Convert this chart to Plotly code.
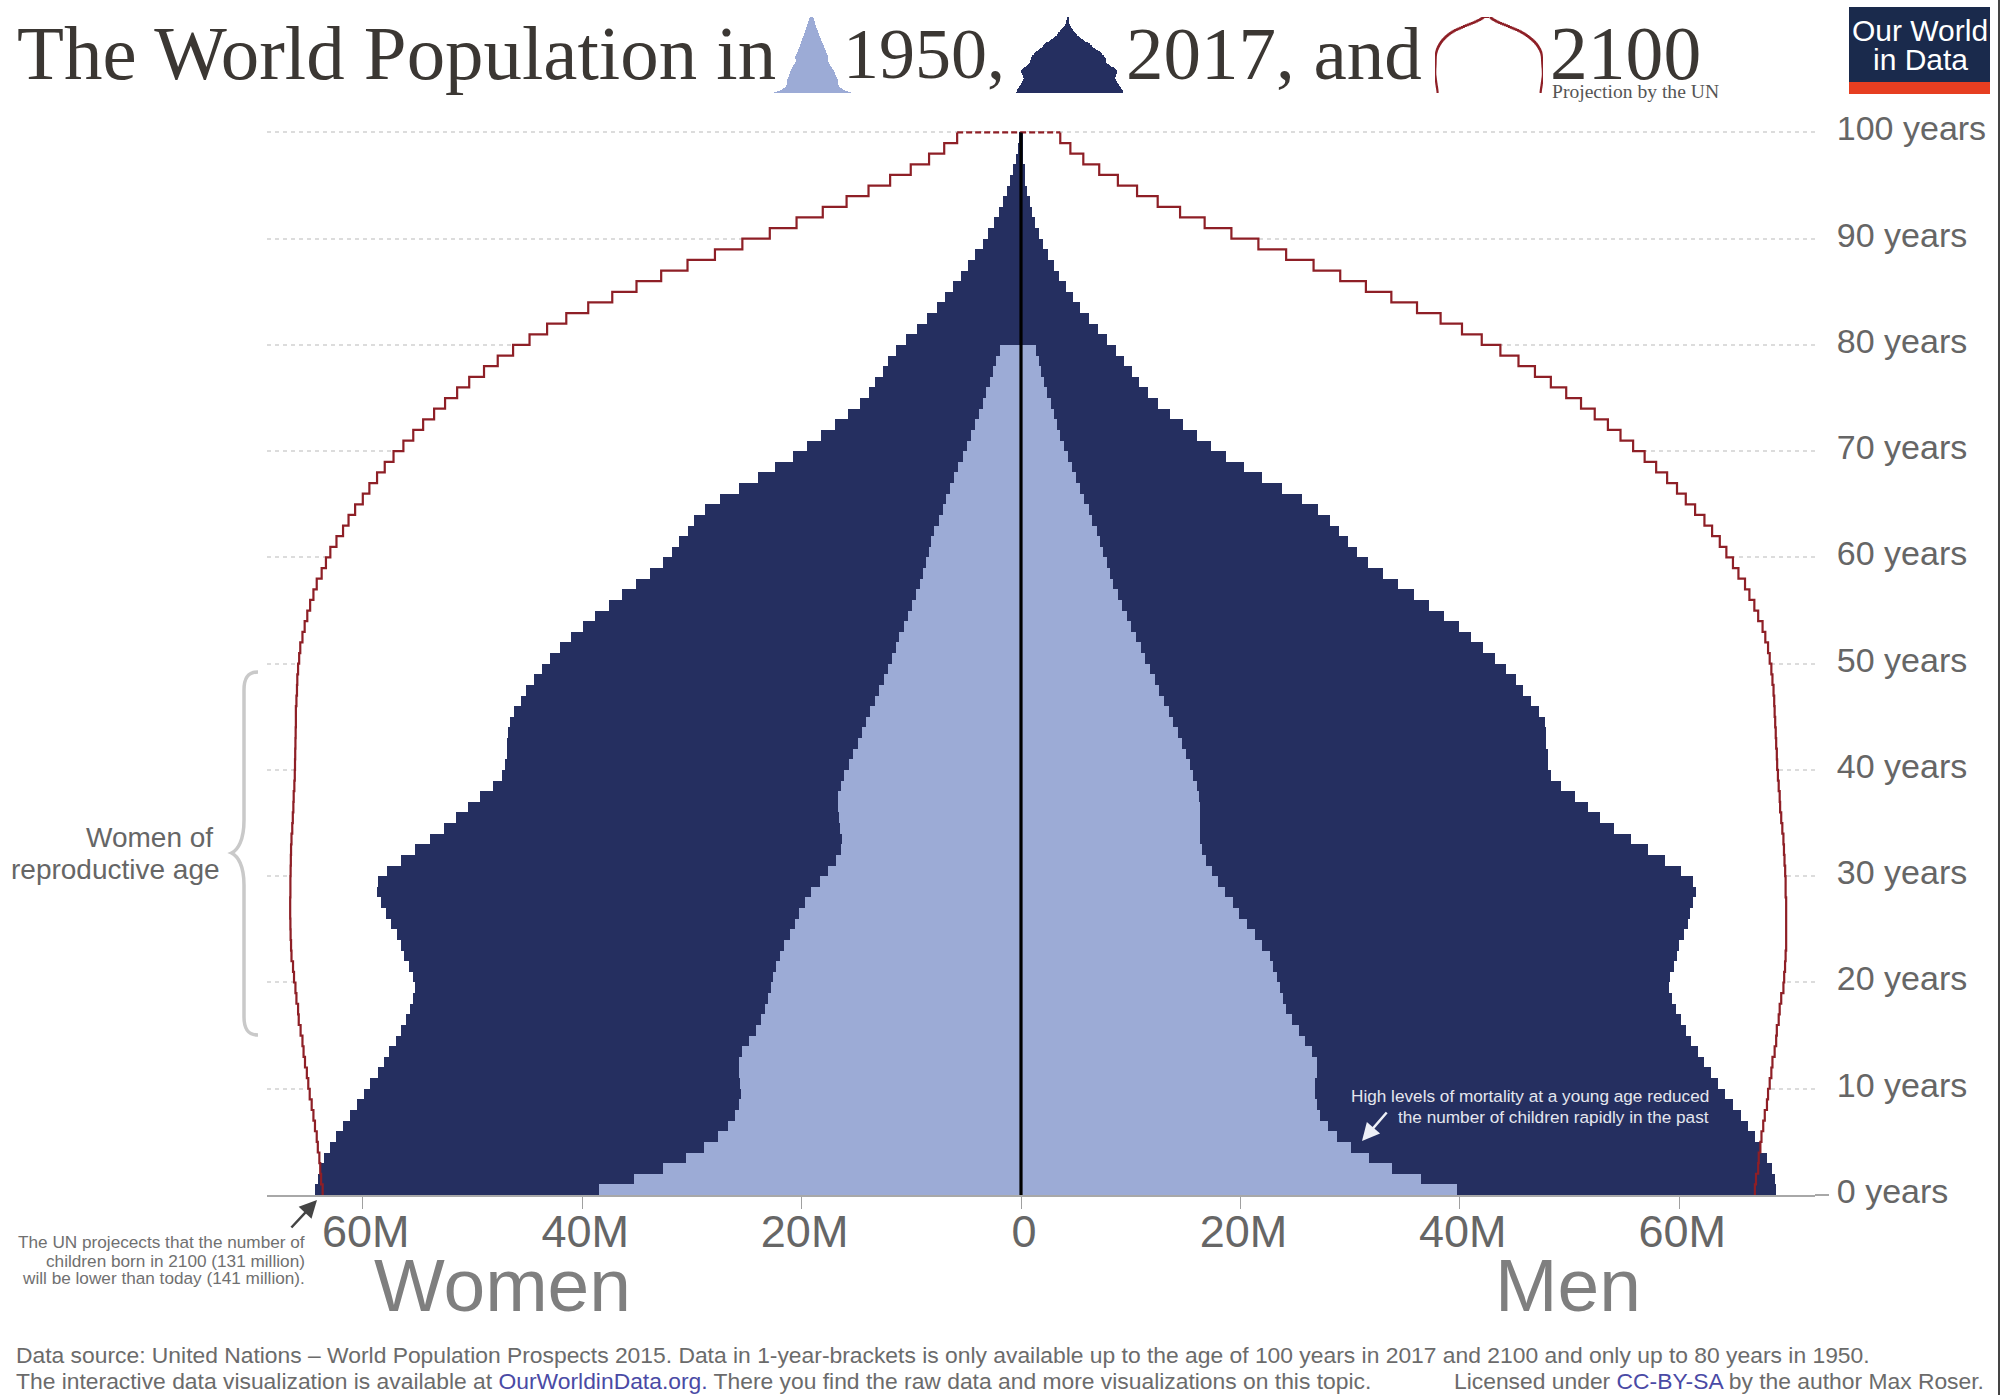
import plotly.graph_objects as go

# values in millions, index = age in years
ages = list(range(100))
ages_1950 = list(range(80))

women_2017 = [
    64.4, 64.1, 63.8, 63.5, 63.0, 62.4, 61.8, 61.2, 60.5, 59.9,
    59.3, 58.6, 58.1, 57.6, 57.0, 56.5, 56.1, 55.7, 55.4, 55.2,
    55.4, 55.8, 56.2, 56.5, 56.9, 57.4, 57.9, 58.3, 58.7, 58.6,
    57.8, 56.5, 55.2, 53.9, 52.6, 51.5, 50.4, 49.3, 48.1, 47.3,
    47.0, 46.9, 46.9, 46.8, 46.6, 46.2, 45.6, 45.1, 44.4, 43.7,
    42.9, 42.0, 41.0, 39.9, 38.8, 37.6, 36.4, 35.1, 33.8, 32.6,
    31.8, 31.2, 30.4, 29.8, 28.8, 27.4, 25.7, 24.0, 22.4, 20.8,
    19.5, 18.2, 17.0, 15.8, 14.7, 13.9, 13.3, 12.6, 12.1, 11.4,
    10.5, 9.5, 8.6, 7.7, 6.9, 6.2, 5.5, 4.8, 4.2, 3.5,
    3.0, 2.5, 2.0, 1.6, 1.3, 0.96, 0.71, 0.43, 0.25, 0.12,
]
men_2017 = [
    68.8, 68.7, 68.5, 68.0, 67.4, 66.9, 66.3, 65.6, 64.9, 64.2,
    63.5, 62.9, 62.3, 61.7, 61.1, 60.6, 60.2, 59.7, 59.3, 59.05,
    59.2, 59.5, 59.8, 60.0, 60.4, 60.8, 61.0, 61.3, 61.5, 61.3,
    60.2, 58.7, 57.2, 55.6, 54.1, 52.8, 51.7, 50.5, 49.25, 48.3,
    48.0, 48.0, 47.9, 47.9, 47.75, 47.2, 46.5, 45.8, 45.1, 44.2,
    43.2, 42.1, 41.0, 39.9, 38.55, 37.2, 35.8, 34.4, 33.0, 31.65,
    30.66, 29.8, 29.0, 28.2, 27.1, 25.6, 23.8, 22.0, 20.3, 18.65,
    17.3, 16.0, 14.8, 13.6, 12.5, 11.6, 10.8, 10.1, 9.4, 8.7,
    7.84, 7.0, 6.17, 5.37, 4.7, 4.07, 3.49, 2.97, 2.47, 2.04,
    1.64, 1.3, 1.03, 0.78, 0.56, 0.4, 0.35, 0.2, 0.15, 0.1,
]
women_1950 = [
    38.5, 35.3, 32.6, 30.5, 28.9, 27.6, 26.7, 26.1, 25.7, 25.5,
    25.6, 25.7, 25.7, 25.4, 24.75, 24.2, 23.7, 23.3, 23.05, 22.8,
    22.6, 22.3, 22.0, 21.6, 21.1, 20.6, 20.2, 19.7, 19.1, 18.3,
    17.6, 16.9, 16.4, 16.3, 16.5, 16.6, 16.7, 16.7, 16.4, 16.1,
    15.7, 15.3, 14.9, 14.5, 14.1, 13.8, 13.3, 12.9, 12.5, 12.1,
    11.8, 11.4, 11.1, 10.7, 10.3, 9.9, 9.6, 9.2, 8.9, 8.7,
    8.4, 8.2, 7.9, 7.5, 7.15, 6.8, 6.45, 6.07, 5.7, 5.3,
    4.93, 4.56, 4.19, 3.85, 3.51, 3.17, 2.87, 2.56, 2.25, 1.94,
]
men_1950 = [
    39.7, 36.5, 33.8, 31.7, 30.1, 28.8, 28.0, 27.3, 27.0, 26.8,
    26.8, 27.0, 27.0, 26.5, 25.9, 25.3, 24.7, 24.2, 23.85, 23.6,
    23.3, 23.0, 22.7, 22.0, 21.3, 20.6, 19.9, 19.3, 18.6, 18.0,
    17.4, 16.9, 16.5, 16.3, 16.3, 16.3, 16.3, 16.2, 16.0, 15.7,
    15.4, 15.06, 14.7, 14.3, 13.9, 13.5, 13.06, 12.6, 12.2, 11.8,
    11.3, 10.9, 10.5, 10.07, 9.66, 9.25, 8.84, 8.4, 8.1, 7.8,
    7.5, 7.2, 6.9, 6.5, 6.2, 5.76, 5.4, 5.0, 4.64, 4.3,
    3.95, 3.6, 3.27, 2.97, 2.7, 2.4, 2.13, 1.86, 1.6, 1.37,
]
women_2100 = [
    63.66, 63.8, 63.88, 63.96, 64.1, 64.2, 64.36, 64.5, 64.66, 64.84,
    64.97, 65.1, 65.27, 65.4, 65.5, 65.67, 65.84, 65.9, 66.05, 66.14,
    66.27, 66.36, 66.5, 66.54, 66.58, 66.6, 66.62, 66.62, 66.6, 66.6,
    66.58, 66.56, 66.54, 66.5, 66.43, 66.38, 66.33, 66.3, 66.24, 66.2,
    66.18, 66.16, 66.14, 66.12, 66.1, 66.1, 66.05, 66.0, 65.97, 65.9,
    65.8, 65.7, 65.5, 65.3, 65.06, 64.8, 64.5, 64.2, 63.75, 63.36,
    62.96, 62.4, 61.8, 61.3, 60.7, 60.0, 59.4, 58.7, 58.0, 57.2,
    56.3, 55.4, 54.5, 53.5, 52.5, 51.4, 50.3, 48.95, 47.7, 46.3,
    44.8, 43.2, 41.45, 39.45, 37.26, 35.05, 32.8, 30.4, 27.9, 25.4,
    22.9, 20.46, 18.07, 15.9, 13.9, 11.93, 10.05, 8.38, 7.0, 5.82,
]
men_2100 = [
    66.9, 67.0, 67.2, 67.25, 67.4, 67.5, 67.66, 67.8, 68.0, 68.1,
    68.25, 68.4, 68.5, 68.7, 68.84, 68.9, 69.07, 69.16, 69.3, 69.5,
    69.57, 69.65, 69.7, 69.75, 69.75, 69.75, 69.75, 69.75, 69.7, 69.7,
    69.66, 69.6, 69.55, 69.5, 69.4, 69.3, 69.2, 69.16, 69.07, 69.0,
    68.93, 68.9, 68.84, 68.8, 68.75, 68.7, 68.66, 68.6, 68.5, 68.4,
    68.25, 68.1, 67.85, 67.6, 67.2, 66.85, 66.4, 66.0, 65.4, 64.9,
    64.3, 63.7, 63.0, 62.3, 61.45, 60.6, 59.8, 58.9, 57.9, 56.85,
    55.8, 54.65, 53.5, 52.3, 51.05, 49.7, 48.3, 46.85, 45.35, 43.7,
    42.0, 40.2, 38.25, 36.1, 33.76, 31.44, 29.1, 26.67, 24.17, 21.64,
    19.18, 16.74, 14.5, 12.46, 10.58, 8.83, 7.13, 5.68, 4.5, 3.58,
]

x_tickvals = [-60, -40, -20, 0, 20, 40, 60]
x_ticktext = ["60M", "40M", "20M", "0", "20M", "40M", "60M"]
y_tickvals = [0, 10, 20, 30, 40, 50, 60, 70, 80, 90, 100]
y_ticktext = ["0 years", "10 years", "20 years", "30 years", "40 years", "50 years",
              "60 years", "70 years", "80 years", "90 years", "100 years"]

W, H = 2000, 1395
NAVY = "#252f60"
BLUE = "#9cabd6"
RED = "#8e1f26"
SANS = "Liberation Sans"
SERIF = "Liberation Serif"


def fx(px):
    return px / W


def fy(py):
    return 1 - py / H


def label(text, x, base, size, color, family=SANS, anchor="left"):
    # base is the text baseline in page pixels
    return dict(text=text, x=fx(x), y=fy(base + 0.215 * size), xref="paper", yref="paper",
                xanchor=anchor, yanchor="bottom", showarrow=False, borderpad=0,
                align=anchor, font=dict(family=family, size=size, color=color))


def arrow(x0, y0, x1, y1, color):
    return dict(text="", x=fx(x1), y=fy(y1), ax=x0 - x1, ay=y0 - y1, xref="paper", yref="paper",
                showarrow=True, arrowhead=2, arrowsize=1.4, arrowwidth=2.5, arrowcolor=color)


def pyramid_traces(xa, ya):
    # same data drawn on the main axes and again on the little title icons
    out = []
    out.append(go.Bar(y=ages, x=[w + m for w, m in zip(women_2100, men_2100)], base=[-w for w in women_2100],
                      orientation="h", width=1, offset=0, marker=dict(color="white", line_width=0),
                      xaxis=xa, yaxis=ya))
    out.append(go.Bar(y=ages, x=[-w for w in women_2017], orientation="h", width=1, offset=0,
                      marker=dict(color=NAVY, line_width=0), xaxis=xa, yaxis=ya))
    out.append(go.Bar(y=ages, x=men_2017, orientation="h", width=1, offset=0,
                      marker=dict(color=NAVY, line_width=0), xaxis=xa, yaxis=ya))
    out.append(go.Bar(y=ages_1950, x=[-w for w in women_1950], orientation="h", width=1, offset=0,
                      marker=dict(color=BLUE, line_width=0), xaxis=xa, yaxis=ya))
    out.append(go.Bar(y=ages_1950, x=men_1950, orientation="h", width=1, offset=0,
                      marker=dict(color=BLUE, line_width=0), xaxis=xa, yaxis=ya))
    return out


def outline_2100(xa, ya, width):
    top = ages + [100]
    left = [-w for w in women_2100]
    out = []
    out.append(go.Scatter(x=left + [left[-1]], y=top, mode="lines", line=dict(color=RED, width=width, shape="vh"),
                          xaxis=xa, yaxis=ya))
    out.append(go.Scatter(x=men_2100 + [men_2100[-1]], y=top, mode="lines",
                          line=dict(color=RED, width=width, shape="vh"), xaxis=xa, yaxis=ya))
    out.append(go.Scatter(x=[left[-1], men_2100[-1]], y=[100, 100], mode="lines",
                          line=dict(color=RED, width=width, dash="6px,3px"), xaxis=xa, yaxis=ya))
    return out


traces = pyramid_traces("x", "y") + outline_2100("x", "y", 2.2)
traces.append(go.Scatter(x=[0, 0], y=[0, 100], mode="lines", line=dict(color="black", width=3.2)))

# title icons
for trace in pyramid_traces("x2", "y2")[3:]:
    traces.append(trace)
for trace in pyramid_traces("x3", "y3")[1:3]:
    traces.append(trace)
traces += outline_2100("x4", "y4", 2)

fig = go.Figure(data=traces)

annotations = [
    label("The World Population in", 16, 80, 76.9, "#3b3733", SERIF),
    label("1950,", 842, 80, 72, "#3b3733", SERIF),
    label("2017, and", 1125, 80, 75, "#3b3733", SERIF),
    label("2100", 1549, 80, 75.6, "#3b3733", SERIF),
    label("Projection by the UN", 1551, 99, 19.6, "#555555", SERIF),
    label("Our World", 1920, 42, 30, "white", SANS, "center"),
    label("in Data", 1920, 71, 30, "white", SANS, "center"),
    label("Women of", 214, 848, 28, "#666666", SANS, "right"),
    label("reproductive age", 221, 880, 28, "#666666", SANS, "right"),
    label("The UN projecects that the number of", 306, 1249, 17.2, "#707070", SANS, "right"),
    label("children born in 2100 (131 million)", 306, 1268, 17.2, "#707070", SANS, "right"),
    label("will be lower than today (141 million).", 306, 1285, 17.2, "#707070", SANS, "right"),
    label("Women", 373, 1312, 75, "#7f7f7f"),
    label("Men", 1494, 1312, 75, "#7f7f7f"),
    label("High levels of mortality at a young age reduced", 1710, 1103, 17.2, "#e4e6ee", SANS, "right"),
    label("the number of children rapidly in the past", 1710, 1124, 17.2, "#e4e6ee", SANS, "right"),
    label("Data source: United Nations – World Population Prospects 2015. Data in 1-year-brackets is only "
          "available up to the age of 100 years in 2017 and 2100 and only up to 80 years in 1950.",
          14.5, 1364, 22.85, "#6b6b6b"),
    label("The interactive data visualization is available at <span style='color:#4a4aa5'>OurWorldinData.org.</span> "
          "There you find the raw data and more visualizations on this topic.", 14.5, 1390, 22.85, "#6b6b6b"),
    label("Licensed under <span style='color:#4a4aa5'>CC-BY-SA</span> by the author Max Roser.",
          1985, 1390, 22.85, "#6b6b6b", SANS, "right"),
    arrow(290, 1229, 317, 1200, "#444444"),
    arrow(1388, 1111, 1362, 1141, "#eef0f6"),
]

brace = ("M {} {} C {} {} {} {} {} {} L {} {} C {} {} {} {} {} {} C {} {} {} {} {} {} "
         "L {} {} C {} {} {} {} {} {}")
pts = [(258, 672), (248, 672), (244, 678), (244, 690), (244, 820), (244, 840), (238, 850), (231.5, 853),
       (238, 856), (244, 866), (244, 885), (244, 1017), (244, 1029), (248, 1035), (258, 1035)]
brace_path = brace.format(*[v for p in pts for v in (round(fx(p[0]), 5), round(fy(p[1]), 5))])

shapes = [
    dict(type="path", path=brace_path, xref="paper", yref="paper", line=dict(color="#c9c9c9", width=3.5)),
    # logo
    dict(type="rect", x0=fx(1849), x1=fx(1990), y0=fy(7), y1=fy(82), xref="paper", yref="paper",
         fillcolor="#1a2a4c", line_width=0),
    dict(type="rect", x0=fx(1849), x1=fx(1990), y0=fy(82), y1=fy(94), xref="paper", yref="paper",
         fillcolor="#e63e21", line_width=0),
    # baseline runs a bit past the grid
    dict(type="line", x0=fx(1815), x1=fx(1829), y0=fy(1195), y1=fy(1195), xref="paper", yref="paper",
         line=dict(color="#a8a8a8", width=2)),
    dict(type="line", x0=fx(1999), x1=fx(1999), y0=0, y1=1, xref="paper", yref="paper",
         line=dict(color="#444444", width=2)),
]

fig.update_layout(
    width=W, height=H, autosize=False,
    margin=dict(l=0, r=0, t=0, b=0),
    paper_bgcolor="white", plot_bgcolor="rgba(0,0,0,0)",
    showlegend=False, barmode="overlay", bargap=0,
    annotations=annotations, shapes=shapes,
    xaxis=dict(domain=[fx(267), fx(1815)], range=[(267 - 1021) / 10.97, (1815 - 1021) / 10.97],
               automargin=False, tickvals=x_tickvals, ticktext=x_ticktext, showgrid=False, zeroline=False,
               showline=True, linecolor="#a8a8a8", linewidth=2, ticks="outside", ticklen=12, tickwidth=1,
               tickcolor="#a0a0a0", tickfont=dict(family=SANS, size=45, color="#666666"), anchor="y",
               ticklabelstandoff=-16, ticklabelshift=3),
    yaxis=dict(domain=[fy(1195), fy(120)], range=[0, (1195 - 120) / 10.626], side="right", automargin=False,
               tickvals=y_tickvals, ticktext=y_ticktext, showgrid=True, gridcolor="#dcdcdc", gridwidth=1.5,
               griddash="4px,4px", zeroline=False, ticks="outside", ticklen=14, tickcolor="rgba(0,0,0,0)",
               tickfont=dict(family=SANS, size=34, color="#666666"), anchor="x", ticklabelshift=-4),
    xaxis2=dict(domain=[fx(774), fx(851)], range=[-38.5, 39.7], visible=False, anchor="y2"),
    yaxis2=dict(domain=[fy(93), fy(17)], range=[0, 80], visible=False, anchor="x2"),
    xaxis3=dict(domain=[fx(1016), fx(1123)], range=[-65, 69], visible=False, anchor="y3"),
    yaxis3=dict(domain=[fy(93), fy(17)], range=[0, 100], visible=False, anchor="x3"),
    xaxis4=dict(domain=[fx(1435), fx(1543)], range=[-67, 70], visible=False, anchor="y4"),
    yaxis4=dict(domain=[fy(93), fy(17)], range=[0, 100], visible=False, anchor="x4"),
)

fig.write_html("out.html", config={"displayModeBar": False},
               post_script="document.body.style.margin='0';")
